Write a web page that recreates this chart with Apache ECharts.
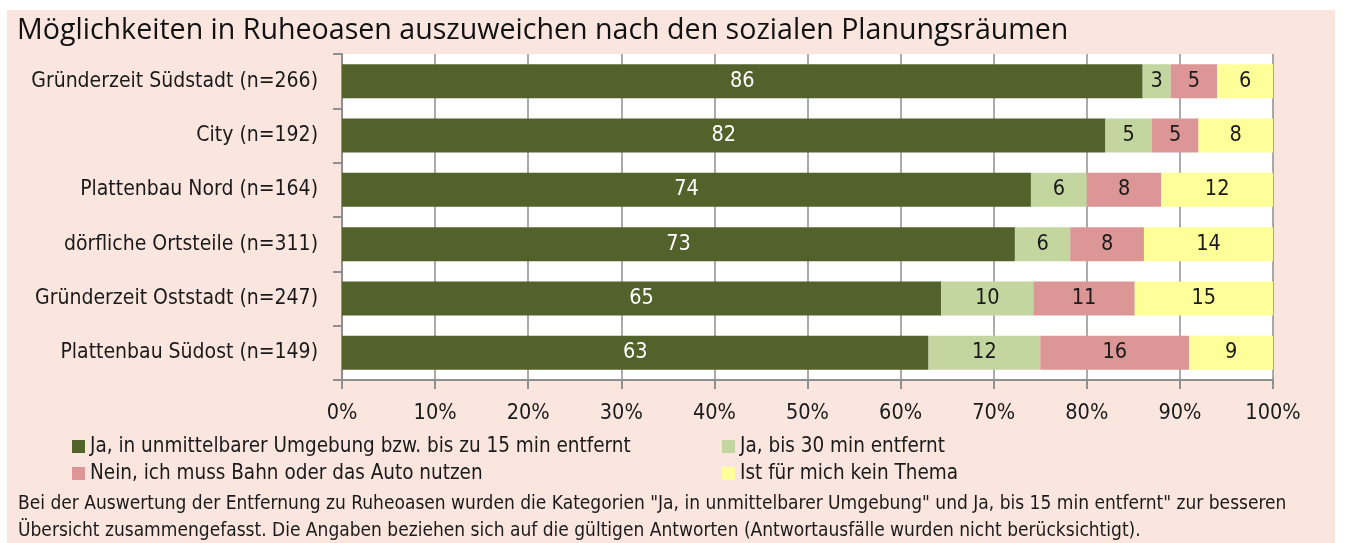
<!DOCTYPE html>
<html>
<head>
<meta charset="utf-8">
<script src="https://cdn.jsdelivr.net/npm/echarts@6/dist/echarts.min.js"></script>
<style>
  html, body { margin: 0; padding: 0; background: #ffffff; }
  #chart { width: 1348px; height: 543px; }
</style>
</head>
<body>
<div id="chart"></div>
<script>
// Planning areas (top to bottom)
const categories = [
  'Gründerzeit Südstadt (n=266)',
  'City (n=192)',
  'Plattenbau Nord (n=164)',
  'dörfliche Ortsteile (n=311)',
  'Gründerzeit Oststadt (n=247)',
  'Plattenbau Südost (n=149)'
];

// Answer shares in percent, as labelled
const nearby = [86, 82, 74, 73, 65, 63];
const within30 = [3, 5, 6, 6, 10, 12];
const trainOrCar = [5, 5, 8, 8, 11, 16];
const noTopic = [6, 8, 12, 14, 15, 9];

const seriesNames = [
  'Ja, in unmittelbarer Umgebung bzw. bis zu 15 min entfernt',
  'Ja, bis 30 min entfernt',
  'Nein, ich muss Bahn oder das Auto nutzen',
  'Ist für mich kein Thema'
];

const xTicks = [0, 10, 20, 30, 40, 50, 60, 70, 80, 90, 100];

const colors = ['#52622A', '#C4D69F', '#DC9695', '#FFFF99'];
const labelColors = ['#ffffff', '#1a1a1a', '#1a1a1a', '#1a1a1a'];

const FONT = '"DejaVu Sans Condensed", "Liberation Sans Narrow", sans-serif';
const GRID_COLOR = '#8f8f8f';

// Each row is drawn as a 100 % bar; segments are scaled by the row total
const allSeries = [nearby, within30, trainOrCar, noTopic];
const rowTotals = categories.map((_, i) => allSeries.reduce((s, arr) => s + arr[i], 0));

const chart = echarts.init(document.getElementById('chart'), null, { renderer: 'canvas' });

const series = allSeries.map((arr, k) => ({
  name: seriesNames[k],
  type: 'bar',
  stack: 'total',
  barWidth: 34,
  itemStyle: { color: colors[k] },
  label: {
    show: true,
    position: 'inside',
    color: labelColors[k],
    fontFamily: FONT,
    fontSize: 21.5,
    formatter: (p) => String(arr[p.dataIndex])
  },
  emphasis: { disabled: true },
  data: arr.map((v, i) => (v / rowTotals[i]) * 100)
}));

const legendText = { fontFamily: FONT, fontSize: 20.5, color: '#1a1a1a' };

const legendBase = {
  orient: 'vertical',
  top: 436,
  padding: 0,
  itemWidth: 13,
  itemHeight: 13,
  itemGap: 6,
  icon: 'rect',
  textStyle: legendText,
  selectedMode: false
};

chart.setOption({
  animation: false,
  backgroundColor: '#ffffff',
  graphic: [
    {
      type: 'rect',
      z: -10,
      shape: { x: 7, y: 10, width: 1328, height: 533 },
      style: { fill: '#FAE6DF' }
    },
    {
      type: 'text',
      x: 17,
      y: 31,
      style: {
        text: 'Möglichkeiten in Ruheoasen auszuweichen nach den sozialen Planungsräumen',
        font: '28.6px "Open Sans", "Noto Sans", sans-serif',
        fill: '#111111',
        verticalAlign: 'middle'
      }
    },
    {
      type: 'text',
      x: 18,
      y: 491,
      style: {
        text: 'Bei der Auswertung der Entfernung zu Ruheoasen wurden die Kategorien "Ja, in unmittelbarer Umgebung" und Ja, bis 15 min entfernt" zur besseren\nÜbersicht zusammengefasst. Die Angaben beziehen sich auf die gültigen Antworten (Antwortausfälle wurden nicht berücksichtigt).',
        font: '19px ' + FONT,
        lineHeight: 26.5,
        fill: '#1a1a1a'
      }
    }
  ],
  grid: {
    left: 342,
    right: 75,
    top: 54,
    bottom: 163,
    containLabel: false,
    outerBoundsMode: 'none',
    backgroundColor: '#ffffff',
    show: true,
    borderWidth: 0
  },
  legend: [
    Object.assign({ data: [seriesNames[0], seriesNames[2]], left: 72 }, legendBase),
    Object.assign({ data: [seriesNames[1], seriesNames[3]], left: 722 }, legendBase)
  ],
  xAxis: {
    type: 'value',
    min: xTicks[0],
    max: xTicks[xTicks.length - 1],
    interval: xTicks[1] - xTicks[0],
    axisLine: { show: true, lineStyle: { color: GRID_COLOR, width: 2 } },
    axisTick: { show: true, length: 9, lineStyle: { color: GRID_COLOR, width: 2 } },
    splitLine: { show: true, lineStyle: { color: GRID_COLOR, width: 1.5 } },
    axisLabel: {
      formatter: '{value}%',
      fontFamily: FONT,
      fontSize: 21.5,
      color: '#1a1a1a',
      margin: 22
    }
  },
  yAxis: {
    type: 'category',
    data: categories,
    inverse: true,
    axisLine: { show: true, lineStyle: { color: GRID_COLOR, width: 2 } },
    axisTick: { show: true, length: 9, lineStyle: { color: GRID_COLOR, width: 2 } },
    axisLabel: {
      fontFamily: FONT,
      fontSize: 21,
      color: '#1a1a1a',
      margin: 24
    }
  },
  series: series
});
</script>
</body>
</html>
